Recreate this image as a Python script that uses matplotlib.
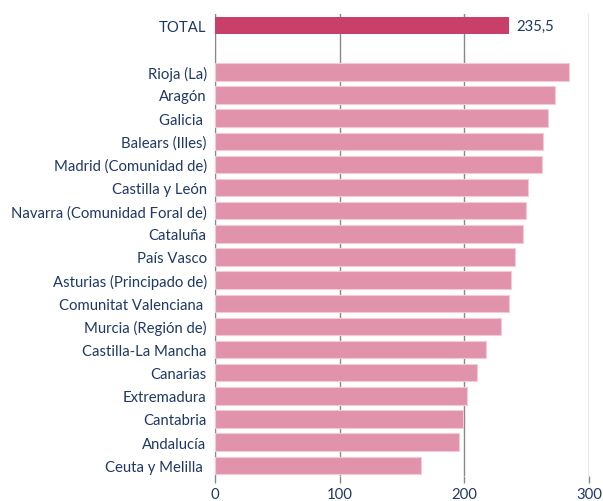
import matplotlib
matplotlib.use("Agg")
import matplotlib.pyplot as plt

regions = ["Rioja (La)", "Aragón", "Galicia ", "Balears (Illes)", "Madrid (Comunidad de)",
           "Castilla y León", "Navarra (Comunidad Foral de)", "Cataluña", "País Vasco",
           "Asturias (Principado de)", "Comunitat Valenciana ", "Murcia (Región de)",
           "Castilla-La Mancha", "Canarias", "Extremadura", "Cantabria", "Andalucía",
           "Ceuta y Melilla "]
values = [283.9, 272.6, 267.3, 263.5, 262.0, 250.7, 249.6, 246.7, 240.8,
          237.6, 235.5, 229.5, 217.3, 210.0, 202.2, 199.0, 195.6, 165.3]
total_label = "TOTAL"
total_value = 235.5
total_text = "235,5"
xticks = [0, 100, 200, 300]

plt.rcParams['font.family'] = ['Lato', 'DejaVu Sans']
navy = "#1F3864"

fig = plt.figure(figsize=(6.03, 5.02), dpi=100)
ax = fig.add_axes([215/603, 1-476.7/502, (589-215)/603, (476.7-15)/502])

n = len(regions)
ypos = list(range(n - 1, -1, -1))
ax.barh(ypos, values, height=0.75, color="#E093AB", edgecolor="#F4CAD6", linewidth=0.8, zorder=3)
ytot = n + 1
ax.barh([ytot], [total_value], height=0.75, color="#C8406A", zorder=3)
ax.text(total_value + 6, ytot, total_text, va="center", ha="left", color=navy, fontsize=10.75)

ax.set_yticks(ypos + [ytot])
ax.set_yticklabels(regions + [total_label], color=navy, fontsize=10.75)
ax.set_ylim(-0.45, ytot + 0.5)
ax.set_xlim(0, 300)
ax.set_xticks(xticks)
ax.set_xticklabels([str(t) for t in xticks], color=navy, fontsize=10.75)
ax.tick_params(axis='y', length=0, pad=6)
ax.tick_params(axis='x', length=5, color="#888888", width=1, pad=3)
for s in ['top', 'right', 'bottom']:
    ax.spines[s].set_visible(False)
ax.spines['left'].set_color("#888888")
ax.xaxis.grid(True, color="#888888", linewidth=1, zorder=0)
ax.set_axisbelow(True)

fig.savefig("out.png", dpi=100)
